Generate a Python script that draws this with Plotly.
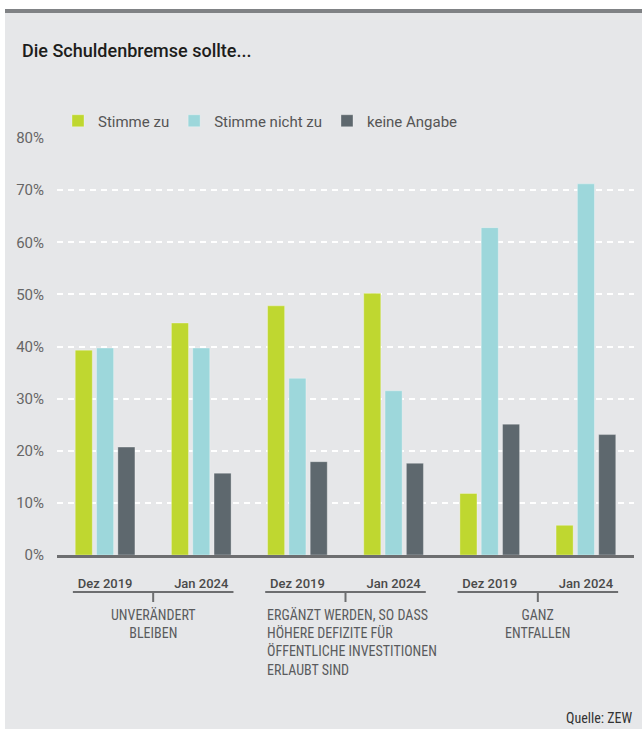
import plotly.graph_objects as go

# ---- data ----
periods = ["Dez 2019", "Jan 2024", "Dez 2019", "Jan 2024", "Dez 2019", "Jan 2024"]
groups = ["UNVERÄNDERT<br>BLEIBEN",
          "ERGÄNZT WERDEN, SO DASS<br>HÖHERE DEFIZITE FÜR<br>ÖFFENTLICHE INVESTITIONEN<br>ERLAUBT SIND",
          "GANZ<br>ENTFALLEN"]
series_names = ["Stimme zu", "Stimme nicht zu", "keine Angabe"]
stimme_zu = [39.3, 44.5, 47.8, 50.2, 11.8, 5.7]
stimme_nicht_zu = [39.7, 39.7, 33.9, 31.5, 62.8, 71.2]
keine_angabe = [20.7, 15.7, 17.9, 17.6, 25.1, 23.1]
y_ticks = [0, 10, 20, 30, 40, 50, 60, 70, 80]
y_ticklabels = [f"{v}%" for v in y_ticks]

colors = ["#bfd730", "#9dd7db", "#5e686e"]

W, H = 642, 729
ML, MR, MT, MB = 57, 8, 138, 174
PW, PH = W - ML - MR, H - MT - MB


def px_x(x):
    return (x - ML) / PW


def px_y(y):
    return (H - MB - y) / PH


FONT = "Roboto, 'Noto Sans', sans-serif"
NARROW = "'Liberation Sans Narrow', 'Roboto Condensed', Roboto, sans-serif"

xpos = list(range(len(periods)))

fig = go.Figure()
for name, vals, c in zip(series_names, [stimme_zu, stimme_nicht_zu, keine_angabe], colors):
    fig.add_trace(go.Bar(
        x=xpos, y=vals, name=name,
        marker=dict(color=c, line=dict(color="rgba(255,255,255,0.3)", width=1)),
    ))

shapes = []
# panel background
shapes.append(dict(type="rect", xref="paper", yref="paper", layer="below",
                   x0=px_x(5), x1=px_x(642), y0=px_y(729), y1=px_y(12),
                   fillcolor="#e6e7e9", line=dict(width=0)))
# top rule
shapes.append(dict(type="rect", xref="paper", yref="paper", layer="below",
                   x0=px_x(5), x1=px_x(642), y0=px_y(13), y1=px_y(9),
                   fillcolor="#808285", line=dict(width=0)))

annotations = []
half = 0.335
for gi, label in enumerate(groups):
    a = 2 * gi
    b = a + 1
    shapes.append(dict(type="line", xref="x", yref="paper",
                       x0=a - half, x1=b + half, y0=px_y(592), y1=px_y(592),
                       line=dict(color="#6d6e70", width=2)))
    shapes.append(dict(type="line", xref="x", yref="paper",
                       x0=(a + b) / 2, x1=(a + b) / 2, y0=px_y(592), y1=px_y(602),
                       line=dict(color="#6d6e70", width=2)))
    if gi == 1:
        annotations.append(dict(x=a - half, y=px_y(605), xref="x", yref="paper",
                                text=label, showarrow=False, xanchor="left", yanchor="top",
                                align="left", font=dict(family=NARROW, size=14, color="#5a5b5d")))
    else:
        annotations.append(dict(x=(a + b) / 2, y=px_y(605), xref="x", yref="paper",
                                text=label, showarrow=False, xanchor="center", yanchor="top",
                                align="center", font=dict(family=NARROW, size=14, color="#5a5b5d")))

annotations.append(dict(x=px_x(20), y=px_y(51), xref="paper", yref="paper",
                        text="Die Schuldenbremse sollte...", showarrow=False,
                        xanchor="left", yanchor="middle",
                        font=dict(family=FONT, size=18, color="#1d1d1b", weight=500)))
annotations.append(dict(x=px_x(634), y=px_y(718), xref="paper", yref="paper",
                        text="Quelle: ZEW", showarrow=False,
                        xanchor="right", yanchor="middle",
                        font=dict(family=NARROW, size=14, color="#333333")))

fig.update_layout(
    width=W, height=H,
    margin=dict(l=ML, r=MR, t=MT, b=MB),
    paper_bgcolor="white", plot_bgcolor="rgba(0,0,0,0)",
    barmode="group", bargap=0.335, bargroupgap=0.2,
    showlegend=True,
    legend=dict(orientation="h", x=px_x(58), y=px_y(121), xanchor="left", yanchor="middle",
                font=dict(family=FONT, size=15, color="#555555"),
                bgcolor="rgba(0,0,0,0)", itemclick=False, traceorder="normal"),
    xaxis=dict(tickmode="array", tickvals=xpos, ticktext=periods,
               range=[-0.5, 5.5], showgrid=False, zeroline=False,
               showline=True, linecolor="#6d6e70", linewidth=3,
               ticks="", ticklabelstandoff=14,
               tickfont=dict(family=FONT, size=13, color="#4a4a4a", weight=500)),
    yaxis=dict(range=[0, 80], tickmode="array", tickvals=y_ticks, ticktext=y_ticklabels,
               showgrid=True, gridcolor="white", gridwidth=1.5, griddash="6px,5px",
               zeroline=False, showline=False, ticks="", ticklabelstandoff=12,
               tickfont=dict(family=FONT, size=15, color="#666666")),
    shapes=shapes, annotations=annotations,
)

fig.write_html("out.html")
